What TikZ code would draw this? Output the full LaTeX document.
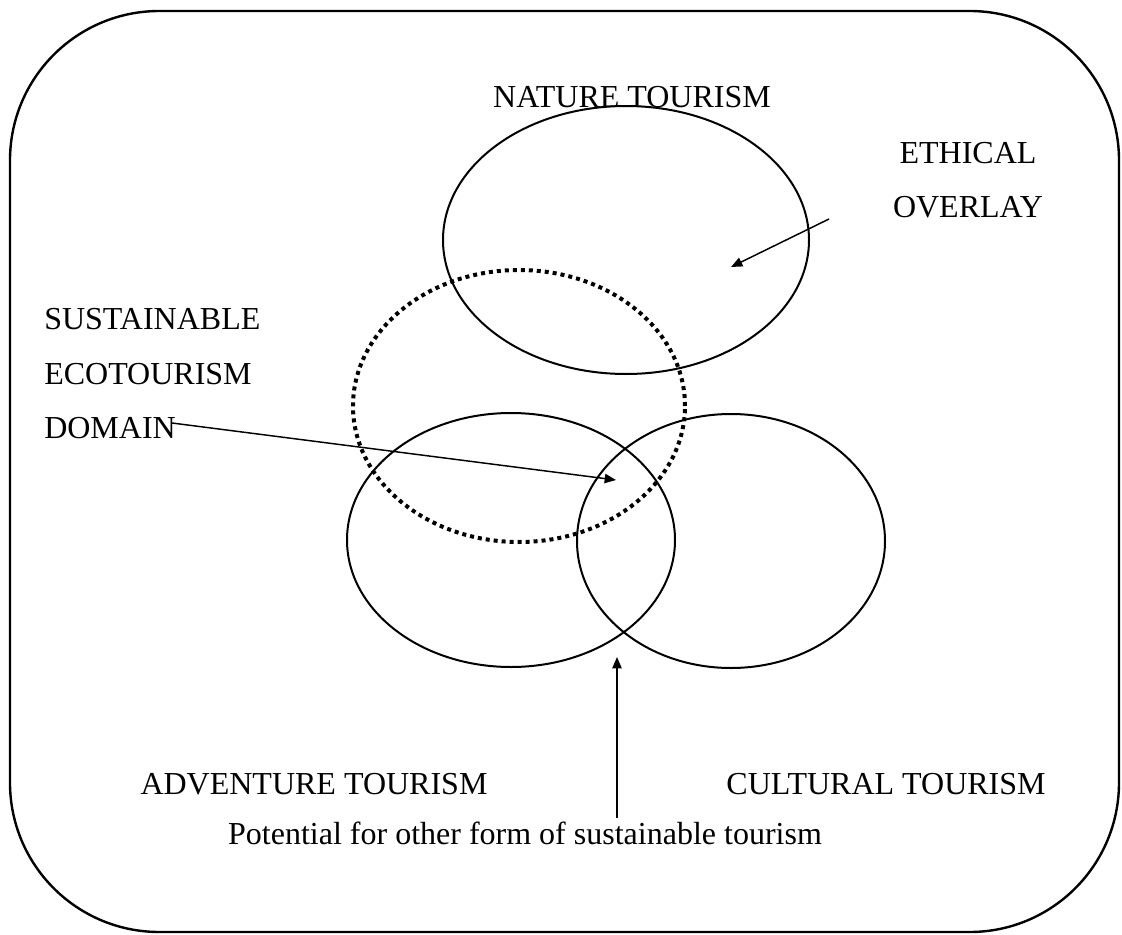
\documentclass[tikz,border=0pt]{standalone}
\usepackage{fontspec}
\setmainfont{Liberation Serif}
\usetikzlibrary{shapes.geometric,arrows.meta}
\begin{document}
\begin{tikzpicture}[x=0.75pt,y=-0.75pt,
  lbl/.style={inner sep=0pt,font=\fontsize{24}{28}\selectfont},
  ring/.style={ellipse,draw,line width=1.5pt,inner sep=0pt},
  dotring/.style={ellipse,draw,line width=3pt,dash pattern=on 3pt off 3pt,inner sep=0pt},
  arr/.style={line width=1.1pt,-{Triangle[length=8.5pt,width=7pt]}}]
\useasboundingbox (0,0) rectangle (1122,935);
\draw[line width=1.8pt,rounded corners=112pt] (10,11) rectangle (1119,932);
\node[ring,minimum width=274.5pt,minimum height=201pt] (nature) at (626,240) {};
\node[ring,minimum width=246pt,minimum height=190.5pt] (adv) at (511,540) {};
\node[ring,minimum width=231pt,minimum height=190.5pt] (cult) at (731,541) {};
\node[dotring,minimum width=249pt,minimum height=204pt] (sust) at (519,406) {};
\node[lbl] (tn) at (632,97) {NATURE TOURISM};
\node[lbl] (te1) at (968,153) {ETHICAL};
\node[lbl] (te2) at (968,207) {OVERLAY};
\node[lbl,anchor=west] (ts1) at (44,319) {SUSTAINABLE};
\node[lbl,anchor=west] (ts2) at (44,374) {ECOTOURISM};
\node[lbl,anchor=west] (ts3) at (44,428) {DOMAIN};
\node[lbl] (ta) at (314,784) {ADVENTURE TOURISM};
\node[lbl] (tc) at (886,784) {CULTURAL TOURISM};
\node[lbl] (tp) at (525,833) {Potential for other form of sustainable tourism};
\coordinate (e1) at (829,219);
\coordinate (e2) at (731,267);
\coordinate (d1) at (172,423);
\coordinate (d2) at (616,480);
\coordinate (p1) at (617,818);
\coordinate (p2) at (617,657);
\draw[arr] (e1) -- (e2);
\draw[arr] (d1) -- (d2);
\draw[arr] (p1) -- (p2);
\end{tikzpicture}
\end{document}
